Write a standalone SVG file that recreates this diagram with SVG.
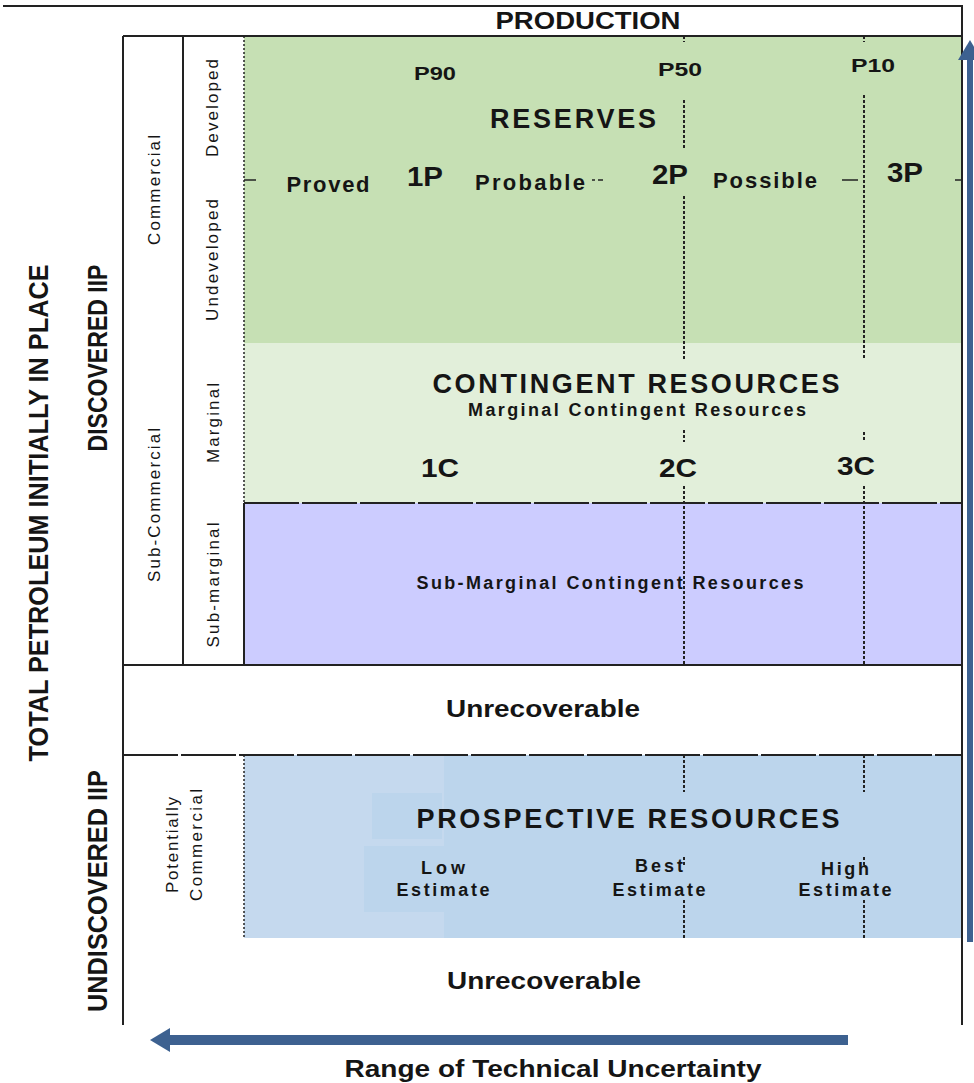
<svg xmlns="http://www.w3.org/2000/svg" width="974" height="1083" viewBox="0 0 974 1083">
<style>
text{font-family:"Liberation Sans",Arial,sans-serif;fill:#151515;font-weight:bold}
.n{font-weight:normal}
.m{text-anchor:middle}
.frame{stroke:#222;stroke-width:2;fill:none}
.dot{stroke:#222;stroke-width:1.5;stroke-dasharray:2 2;fill:none}
.dash{stroke:#222;stroke-width:2;stroke-dasharray:3 2;fill:none}
.hd{stroke:#222;stroke-width:2;stroke-dasharray:55 3;fill:none}
.tick{stroke:#222;stroke-width:1.5}
.arr{fill:#3d6190}
</style>
<rect width="974" height="1083" fill="#fff"/>

<g id="reserves">
<rect x="244" y="36" width="718" height="307" fill="#c6e0b4"/>
<text class="m" x="435" y="80" font-size="18" textLength="42" lengthAdjust="spacingAndGlyphs">P90</text>
<text class="m" x="680" y="76" font-size="18" textLength="44" lengthAdjust="spacingAndGlyphs">P50</text>
<text class="m" x="873" y="72" font-size="18" textLength="44" lengthAdjust="spacingAndGlyphs">P10</text>
<text class="m" x="573" y="128" font-size="27" textLength="166" lengthAdjust="spacing">RESERVES</text>
<text class="m" x="328" y="192" font-size="22" textLength="83" lengthAdjust="spacing">Proved</text>
<text class="m" x="425" y="186" font-size="27" textLength="36" lengthAdjust="spacingAndGlyphs">1P</text>
<text class="m" x="530" y="190" font-size="22" textLength="110" lengthAdjust="spacing">Probable</text>
<text class="m" x="670" y="184" font-size="27" textLength="36" lengthAdjust="spacingAndGlyphs">2P</text>
<text class="m" x="765" y="188" font-size="22" textLength="104" lengthAdjust="spacing">Possible</text>
<text class="m" x="905" y="182" font-size="27" textLength="36" lengthAdjust="spacingAndGlyphs">3P</text>
</g>

<g id="contingent">
<rect x="244" y="343" width="718" height="160" fill="#e2efda"/>
<text class="m" x="636" y="393" font-size="27" textLength="407" lengthAdjust="spacing">CONTINGENT RESOURCES</text>
<text class="m" x="637" y="416" font-size="18" textLength="338" lengthAdjust="spacing">Marginal Contingent Resources</text>
<text class="m" x="440" y="477" font-size="25" textLength="38" lengthAdjust="spacingAndGlyphs">1C</text>
<text class="m" x="678" y="477" font-size="25" textLength="38" lengthAdjust="spacingAndGlyphs">2C</text>
<text class="m" x="856" y="475" font-size="25" textLength="38" lengthAdjust="spacingAndGlyphs">3C</text>
</g>

<g id="submarginal">
<rect x="244" y="503" width="718" height="162" fill="#ccccff"/>
<text class="m" x="610" y="589" font-size="18" textLength="387" lengthAdjust="spacing">Sub-Marginal Contingent Resources</text>
</g>

<g id="unrecoverable-discovered">
<text class="m" x="543" y="717" font-size="23" textLength="194" lengthAdjust="spacingAndGlyphs">Unrecoverable</text>
</g>

<g id="prospective">
<rect x="244" y="755" width="718" height="183" fill="#bcd5ec"/>
<rect x="244" y="755" width="200" height="183" fill="#c5d9ee"/>
<rect x="372" y="793" width="70" height="46" fill="#bcd5ec"/>
<rect x="364" y="846" width="80" height="66" fill="#bcd5ec"/>
<text class="m" x="628" y="828" font-size="27" textLength="423" lengthAdjust="spacing">PROSPECTIVE RESOURCES</text>
<text class="m" x="443" y="874" font-size="18" textLength="44" lengthAdjust="spacing">Low</text>
<text class="m" x="443" y="896" font-size="18" textLength="93" lengthAdjust="spacing">Estimate</text>
<text class="m" x="659" y="872" font-size="18" textLength="48" lengthAdjust="spacing">Best</text>
<text class="m" x="659" y="896" font-size="18" textLength="93" lengthAdjust="spacing">Estimate</text>
<text class="m" x="845" y="875" font-size="18" textLength="48" lengthAdjust="spacing">High</text>
<text class="m" x="845" y="896" font-size="18" textLength="93" lengthAdjust="spacing">Estimate</text>
</g>

<g id="unrecoverable-undiscovered">
<text class="m" x="544" y="989" font-size="23" textLength="194" lengthAdjust="spacingAndGlyphs">Unrecoverable</text>
</g>

<g id="production">
<text class="m" x="588" y="29" font-size="24" textLength="185" lengthAdjust="spacingAndGlyphs">PRODUCTION</text>
</g>

<g id="side-labels">
<text class="m" transform="translate(38,513) rotate(-90)" dy="0.36em" font-size="27" textLength="497" lengthAdjust="spacingAndGlyphs">TOTAL PETROLEUM INITIALLY IN PLACE</text>
<text class="m" transform="translate(97,358) rotate(-90)" dy="0.36em" font-size="27" textLength="187" lengthAdjust="spacingAndGlyphs">DISCOVERED IIP</text>
<text class="m" transform="translate(97,891) rotate(-90)" dy="0.36em" font-size="27" textLength="242" lengthAdjust="spacingAndGlyphs">UNDISCOVERED IIP</text>
<text class="m n" transform="translate(154,190) rotate(-90)" dy="0.36em" font-size="17" textLength="110" lengthAdjust="spacing">Commercial</text>
<text class="m n" transform="translate(154,505) rotate(-90)" dy="0.36em" font-size="17" textLength="154" lengthAdjust="spacing">Sub-Commercial</text>
<text class="m n" transform="translate(212,108) rotate(-90)" dy="0.36em" font-size="17" textLength="98" lengthAdjust="spacing">Developed</text>
<text class="m n" transform="translate(212,260) rotate(-90)" dy="0.36em" font-size="17" textLength="122" lengthAdjust="spacing">Undeveloped</text>
<text class="m n" transform="translate(213,423) rotate(-90)" dy="0.36em" font-size="17" textLength="80" lengthAdjust="spacing">Marginal</text>
<text class="m n" transform="translate(213,585) rotate(-90)" dy="0.36em" font-size="17" textLength="125" lengthAdjust="spacing">Sub-marginal</text>
<text class="m n" transform="translate(172,845) rotate(-90)" dy="0.36em" font-size="17" textLength="96" lengthAdjust="spacing">Potentially</text>
<text class="m n" transform="translate(196,845) rotate(-90)" dy="0.36em" font-size="17" textLength="112" lengthAdjust="spacing">Commercial</text>
</g>

<g id="frame">
<path class="frame" d="M3 6H962V1025M123 36H962M123 36V1025M183 36V665M123 665H962M244 503V665"/>
<path class="dot" d="M244 36V503M244 755V938"/>
<path class="hd" d="M244 503H962M123 755H962"/>
<path class="dash" d="M684 36V42M684 100V150M684 196V360M684 430V442M684 486V665M684 755V792M684 857V866M684 900V938"/>
<path class="dash" d="M864 36V42M864 95V358M864 432V442M864 486V665M864 755V792M864 857V866M864 900V938"/>
<path class="tick" d="M244 180H256M592 180H595M598 180H603M842 180H858M955 180H962"/>
</g>

<g id="connectors">
<rect class="arr" x="967" y="56" width="6" height="886"/>
<polygon class="arr" points="970,40 958,60 982,60"/>
<rect class="arr" x="166" y="1035" width="682" height="10"/>
<polygon class="arr" points="150,1040 170,1028 170,1052"/>
<text class="m" x="553" y="1077" font-size="24" textLength="417" lengthAdjust="spacingAndGlyphs">Range of Technical Uncertainty</text>
</g>
</svg>
